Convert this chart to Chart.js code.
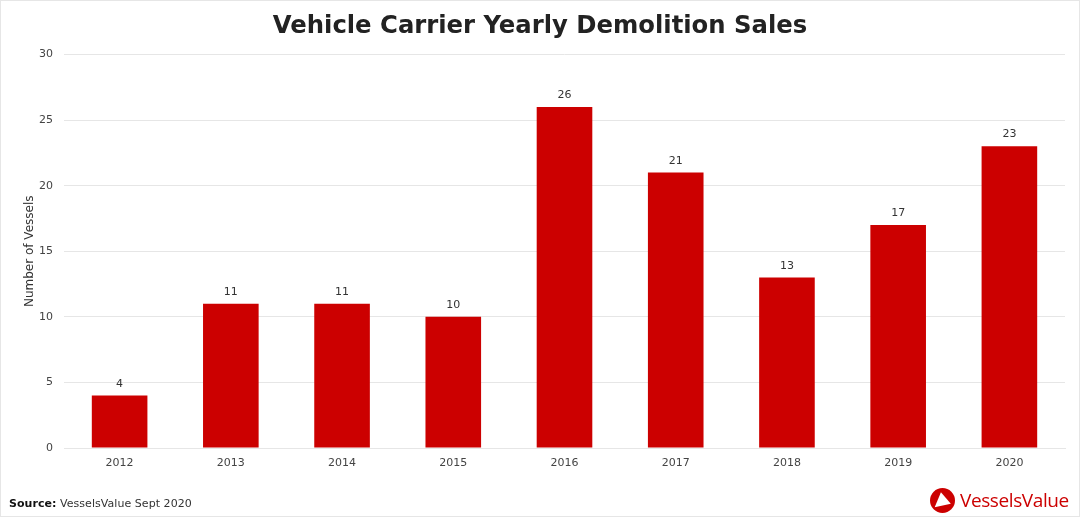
<!DOCTYPE html>
<html>
<head>
<meta charset="utf-8">
<script src="https://cdn.jsdelivr.net/npm/chart.js@4/dist/chart.umd.min.js"></script>
<style>
html, body { margin: 0; padding: 0; background: #fff; }
#wrap { position: relative; width: 1080px; height: 517px; overflow: hidden; font-family: "DejaVu Sans", sans-serif; }
#wrap canvas { position: absolute; left: 0; top: 0; }
#frame { position: absolute; left: 0; top: 0; width: 1078px; height: 515px; border: 1px solid #e6e6e6; pointer-events: none; }
#source { position: absolute; left: 9px; top: 497px; font-size: 11px; line-height: 14px; letter-spacing: 0.05px; color: #333; }
#source b { color: #111; }
#logo { position: absolute; left: 930px; top: 488px; width: 25px; height: 25px; }
#brand { position: absolute; left: 960px; top: 488px; font-family: "Open Sans", sans-serif; font-size: 19px; font-weight: 500; line-height: 24px; letter-spacing: -0.4px; color: #cc0000; }
</style>
</head>
<body>
<div id="wrap">
  <canvas id="chart" width="1080" height="517"></canvas>
  <div id="frame"></div>
  <div id="source"><b>Source:</b> VesselsValue Sept 2020</div>
  <svg id="logo" viewBox="0 0 24 24"><circle cx="12" cy="12" r="12" fill="#cc0000"/><path d="M10.5 4 L20 15 L4.5 18.5 Z" fill="#fff"/></svg>
  <div id="brand">VesselsValue</div>
</div>
<script>
const years = ['2012', '2013', '2014', '2015', '2016', '2017', '2018', '2019', '2020']
const vessels = [4, 11, 11, 10, 26, 21, 13, 17, 23]

// value labels above the bars
const barLabels = {
    id: 'barLabels',
    afterDatasetsDraw(chart) {
        const ctx = chart.ctx
        ctx.save()
        ctx.font = '11px "DejaVu Sans"'
        ctx.fillStyle = '#333333'
        ctx.textAlign = 'center'
        ctx.textBaseline = 'alphabetic'
        chart.getDatasetMeta(0).data.forEach((bar, i) => {
            ctx.fillText(vessels[i], bar.x, bar.y - 9)
        })
        ctx.restore()
    }
}

new Chart(document.getElementById('chart'), {
    type: 'bar',
    data: {
        labels: years,
        datasets: [{
            data: vessels,
            backgroundColor: '#cc0000',
            barPercentage: 0.5,
            categoryPercentage: 1
        }]
    },
    options: {
        responsive: false,
        animation: false,
        // same padding both sides keeps the title centred on the page
        layout: { padding: { top: 0, right: 15, bottom: 0, left: 15 } },
        plugins: {
            legend: { display: false },
            tooltip: { enabled: false },
            title: {
                display: true,
                text: 'Vehicle Carrier Yearly Demolition Sales',
                color: '#222222',
                font: { family: 'DejaVu Sans', size: 24.3, weight: 'bold' },
                padding: { top: 12, bottom: 13.4 }
            }
        },
        scales: {
            x: {
                afterFit(scale) { scale.height = 69 },
                grid: { display: false, drawTicks: false },
                border: { color: '#e6e6e6' },
                ticks: { color: '#444444', font: { family: 'DejaVu Sans', size: 11 }, padding: 9, maxRotation: 0 }
            },
            y: {
                min: 0,
                max: 30,
                afterFit(scale) { scale.width = 49 },
                grid: { color: '#e6e6e6', drawTicks: false },
                border: { display: false },
                ticks: { stepSize: 5, color: '#444444', font: { family: 'DejaVu Sans', size: 11 }, padding: 11 },
                title: {
                    display: true,
                    text: 'Number of Vessels',
                    color: '#333333',
                    font: { family: 'DejaVu Sans', size: 12 },
                    padding: { top: 8, bottom: 0 }
                }
            }
        }
    },
    plugins: [barLabels]
})
</script>
</body>
</html>
